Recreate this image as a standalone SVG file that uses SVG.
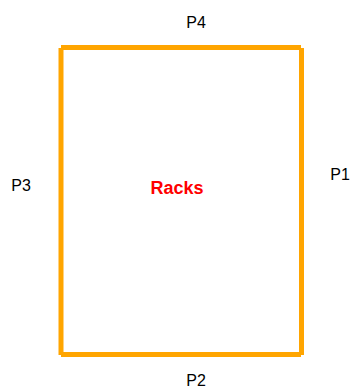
<svg xmlns="http://www.w3.org/2000/svg" width="355" height="392" viewBox="0 0 355 392">
<style>
.w{stroke:#FFA500;stroke-width:5;stroke-linecap:butt;fill:none}
.t{font-family:"Liberation Sans",Arial,sans-serif;font-size:16px;fill:#000;text-anchor:middle}
.r{font-family:"Liberation Sans",Arial,sans-serif;font-size:18px;font-weight:bold;fill:#FF0000;text-anchor:middle}
</style>
<rect width="355" height="392" fill="#fff"/>
<g id="walls">
<line class="w" x1="61" y1="47.5" x2="114" y2="47.5"/>
<line class="w" x1="114" y1="47.5" x2="248" y2="47.5"/>
<line class="w" x1="248" y1="47.5" x2="301" y2="47.5"/>
<line class="w" x1="301.5" y1="48" x2="301.5" y2="101"/>
<line class="w" x1="301.5" y1="101" x2="301.5" y2="301"/>
<line class="w" x1="301.5" y1="301" x2="301.5" y2="355"/>
<line class="w" x1="61" y1="48" x2="61" y2="101"/>
<line class="w" x1="61" y1="101" x2="61" y2="301"/>
<line class="w" x1="61" y1="301" x2="61" y2="355"/>
<line class="w" x1="61" y1="354.5" x2="114" y2="354.5"/>
<line class="w" x1="114" y1="354.5" x2="248" y2="354.5"/>
<line class="w" x1="248" y1="354.5" x2="301" y2="354.5"/>
</g>
<g id="labels">
<text class="t" x="196" y="28">P4</text>
<text class="t" x="21" y="191">P3</text>
<text class="t" x="340" y="180">P1</text>
<text class="t" x="196" y="386">P2</text>
<text class="r" x="177" y="194">Racks</text>
</g>
</svg>
